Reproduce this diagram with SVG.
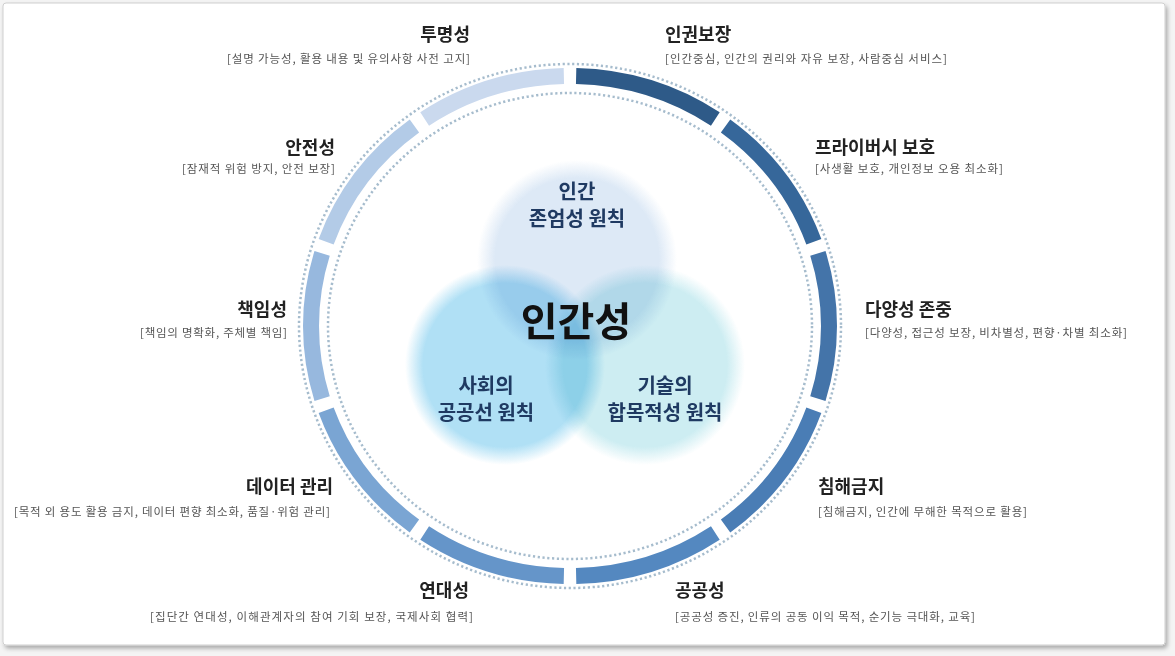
<svg xmlns="http://www.w3.org/2000/svg" width="1175" height="656" viewBox="0 0 1175 656">
<style>
.t{font-family:"Noto Sans CJK KR","Noto Sans",sans-serif;font-weight:700;font-size:18px;fill:#222}
.d{font-family:"Noto Sans CJK KR","Noto Sans",sans-serif;font-size:11.5px;fill:#555}
.v{font-family:"Noto Sans CJK KR","Noto Sans",sans-serif;font-weight:700;font-size:20px;fill:#1f3a62;text-anchor:middle}
.m{font-family:"Noto Sans CJK KR","Noto Sans",sans-serif;font-weight:700;font-size:40px;fill:#111;text-anchor:middle}
.e{text-anchor:end}
.seg{fill:none;stroke-width:16;stroke-dasharray:33.2 326.8}
.dot{fill:none;stroke:#a6bccd;stroke-width:2.5;stroke-dasharray:2.2 2.6}
.c{mix-blend-mode:multiply}
</style>
<defs>
<filter id="sh" x="-2%" y="-2%" width="104%" height="106%">
<feDropShadow dx="2" dy="3" stdDeviation="2" flood-color="#000" flood-opacity="0.3"/>
</filter>
<radialGradient id="gTop"><stop offset="0" stop-color="#dde9f6"/><stop offset="0.82" stop-color="#dde9f6"/><stop offset="1" stop-color="#dde9f6" stop-opacity="0"/></radialGradient>
<radialGradient id="gLeft"><stop offset="0" stop-color="#b0e0f5"/><stop offset="0.82" stop-color="#b0e0f5"/><stop offset="1" stop-color="#b0e0f5" stop-opacity="0"/></radialGradient>
<radialGradient id="gRight"><stop offset="0" stop-color="#cdedf2"/><stop offset="0.82" stop-color="#cdedf2"/><stop offset="1" stop-color="#cdedf2" stop-opacity="0"/></radialGradient>
<path id="ring" d="M 829 326 A 259 250 0 1 1 311 326 A 259 250 0 1 1 829 326 Z" pathLength="360"/>
</defs>
<rect x="0" y="0" width="1175" height="656" fill="#f4f4f4"/>
<rect x="3" y="3" width="1162" height="642" rx="3" fill="#fff" stroke="#cfcfcf" filter="url(#sh)"/>

<g id="connectors">
<ellipse class="dot" cx="570" cy="326" rx="271" ry="262"/>
<ellipse class="dot" cx="570" cy="326" rx="242" ry="233"/>
</g>

<g id="ring-segments">
<use href="#ring" class="seg" stroke="#2e5a88" stroke-dashoffset="-271.4"/>
<use href="#ring" class="seg" stroke="#36679a" stroke-dashoffset="-307.4"/>
<use href="#ring" class="seg" stroke="#4474a9" stroke-dashoffset="-343.4"/>
<use href="#ring" class="seg" stroke="#4a7db5" stroke-dashoffset="-19.4"/>
<use href="#ring" class="seg" stroke="#5488c0" stroke-dashoffset="-55.4"/>
<use href="#ring" class="seg" stroke="#6595c9" stroke-dashoffset="-91.4"/>
<use href="#ring" class="seg" stroke="#7aa5d3" stroke-dashoffset="-127.4"/>
<use href="#ring" class="seg" stroke="#97b8de" stroke-dashoffset="-163.4"/>
<use href="#ring" class="seg" stroke="#b3cbe7" stroke-dashoffset="-199.4"/>
<use href="#ring" class="seg" stroke="#cad9ee" stroke-dashoffset="-235.4"/>
</g>

<g id="venn" style="isolation:isolate">
<circle class="c" cx="577" cy="260" r="100" fill="url(#gTop)"/>
<circle class="c" cx="505" cy="365" r="100" fill="url(#gLeft)"/>
<circle class="c" cx="645" cy="365" r="100" fill="url(#gRight)"/>
</g>

<g id="node-dignity">
<text class="v" x="577" y="199">인간</text>
<text class="v" x="577" y="226">존엄성 원칙</text>
</g>
<g id="node-humanity">
<text class="m" x="576" y="336">인간성</text>
</g>
<g id="node-public">
<text class="v" x="486" y="393">사회의</text>
<text class="v" x="486" y="420">공공선 원칙</text>
</g>
<g id="node-tech">
<text class="v" x="665" y="393">기술의</text>
<text class="v" x="665" y="420">합목적성 원칙</text>
</g>

<g id="label-transparency">
<text class="t e" x="470" y="41">투명성</text>
<text class="d e" x="470" y="63" textLength="243" lengthAdjust="spacing">[설명 가능성, 활용 내용 및 유의사항 사전 고지]</text>
</g>
<g id="label-rights">
<text class="t" x="665" y="41">인권보장</text>
<text class="d" x="665" y="63" textLength="282" lengthAdjust="spacing">[인간중심, 인간의 권리와 자유 보장, 사람중심 서비스]</text>
</g>
<g id="label-safety">
<text class="t e" x="335" y="154">안전성</text>
<text class="d e" x="335" y="173" textLength="153" lengthAdjust="spacing">[잠재적 위험 방지, 안전 보장]</text>
</g>
<g id="label-privacy">
<text class="t" x="815" y="154">프라이버시 보호</text>
<text class="d" x="815" y="173" textLength="188" lengthAdjust="spacing">[사생활 보호, 개인정보 오용 최소화]</text>
</g>
<g id="label-accountability">
<text class="t e" x="287" y="316">책임성</text>
<text class="d e" x="287" y="337" textLength="147" lengthAdjust="spacing">[책임의 명확화, 주체별 책임]</text>
</g>
<g id="label-diversity">
<text class="t" x="865" y="316">다양성 존중</text>
<text class="d" x="865" y="337" textLength="262" lengthAdjust="spacing">[다양성, 접근성 보장, 비차별성, 편향·차별 최소화]</text>
</g>
<g id="label-data">
<text class="t e" x="333" y="493">데이터 관리</text>
<text class="d e" x="330" y="516" textLength="316" lengthAdjust="spacing">[목적 외 용도 활용 금지, 데이터 편향 최소화, 품질·위험 관리]</text>
</g>
<g id="label-harm">
<text class="t" x="818" y="493">침해금지</text>
<text class="d" x="818" y="516" textLength="209" lengthAdjust="spacing">[침해금지, 인간에 무해한 목적으로 활용]</text>
</g>
<g id="label-solidarity">
<text class="t e" x="469" y="597">연대성</text>
<text class="d e" x="473" y="621" textLength="323" lengthAdjust="spacing">[집단간 연대성, 이해관계자의  참여 기회 보장, 국제사회 협력]</text>
</g>
<g id="label-publicness">
<text class="t" x="675" y="597">공공성</text>
<text class="d" x="675" y="621" textLength="300" lengthAdjust="spacing">[공공성 증진, 인류의 공동 이익 목적, 순기능 극대화, 교육]</text>
</g>
</svg>
